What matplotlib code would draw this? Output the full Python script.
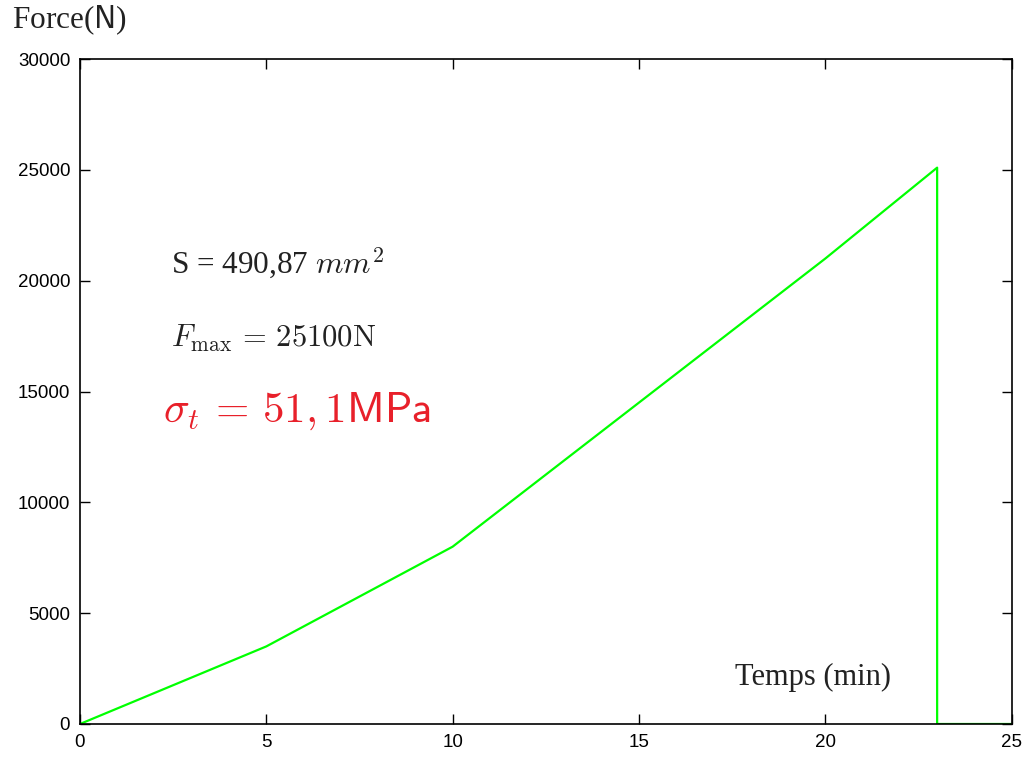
import numpy as np
import matplotlib.pyplot as plt

plt.rcParams['mathtext.fontset'] = 'cm'

# force vs time
temps = [0, 5, 10, 15, 20, 23, 23, 25]
force = [0, 3500, 8000, 14500, 21000, 25100, 0, 0]

xticks = [0, 5, 10, 15, 20, 25]
yticks = [0, 5000, 10000, 15000, 20000, 25000, 30000]

fig = plt.figure(figsize=(10.25, 7.57), dpi=100)
ax = fig.add_axes([0.078, 0.0436, 0.909, 0.8784])

ax.plot(temps, force, color="#00ff00", linewidth=1.6)

ax.set_xlim(0, 25)
ax.set_ylim(0, 30000)
ax.set_xticks(xticks)
ax.set_yticks(yticks)
ax.tick_params(direction="in", length=7, width=1, top=True, right=True,
               labelsize=13.5, pad=7)
for lab in ax.get_xticklabels() + ax.get_yticklabels():
    lab.set_family("Liberation Sans")
for s in ax.spines.values():
    s.set_linewidth(1.2)

# axis titles drawn as free text, like the original
fig.text(0.012, 0.951, r"Force($\mathsf{N}$)", fontsize=22.5,
         family="Liberation Serif", color="#222222", ha="left", va="bottom")
ax.text(0.871, 0.058, "Temps (min)", transform=ax.transAxes, fontsize=22,
        family="Liberation Serif", color="#222222", ha="right", va="baseline")

# annotations
ax.text(0.098, 0.677, r"S = 490,87 $mm^2$", transform=ax.transAxes,
        fontsize=22.5, family="Liberation Serif", color="#222222",
        va="baseline")
ax.text(0.098, 0.568, r"$F_{\max}\,=\,25100\mathrm{N}$",
        transform=ax.transAxes, fontsize=22, color="#222222", va="baseline")
ax.text(0.089, 0.455, r"$\sigma_t\,=\,51,1\mathsf{MPa}$",
        transform=ax.transAxes, fontsize=31, color="#e8202a", va="baseline")

fig.savefig("out.png", dpi=100)
